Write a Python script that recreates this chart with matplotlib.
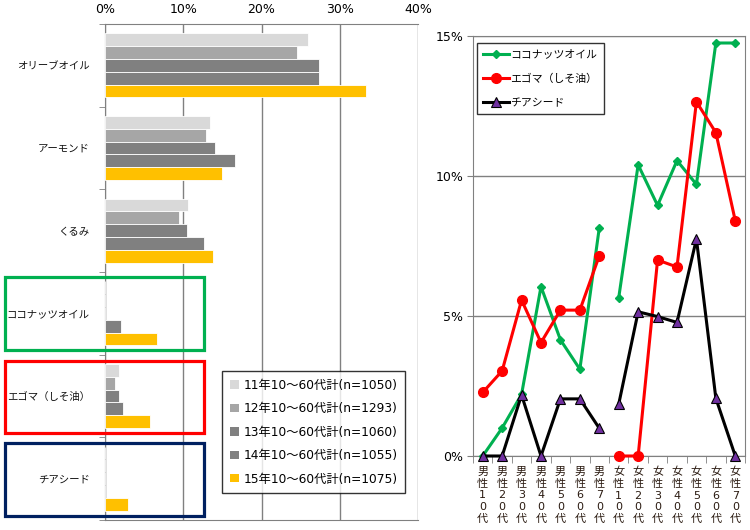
import numpy as np
import matplotlib
matplotlib.use("Agg")
import matplotlib.pyplot as plt
from matplotlib.patches import Rectangle, Patch
from matplotlib.lines import Line2D

plt.rcParams['font.family'] = ['DejaVu Sans', 'Noto Sans CJK JP']

# left chart: share by year (%)
oils = ['オリーブオイル', 'アーモンド', 'くるみ', 'ココナッツオイル', 'エゴマ（しそ油）', 'チアシード']
years = ['11年10～60代計(n=1050)', '12年10～60代計(n=1293)', '13年10～60代計(n=1060)',
         '14年10～60代計(n=1055)', '15年10～60代計(n=1075)']
y11 = [26.0, 13.4, 10.6, 0.0, 1.8, 0.0]
y12 = [24.5, 12.9, 9.4, 0.0, 1.3, 0.0]
y13 = [27.3, 14.1, 10.5, 0.0, 1.75, 0.0]
y14 = [27.3, 16.6, 12.7, 2.0, 2.3, 0.0]
y15 = [33.3, 15.0, 13.8, 6.7, 5.7, 3.0]
year_colors = ['#D9D9D9', '#A6A6A6', '#808080', '#808080', '#FFC000']

# right chart: 15年 by sex / age (%)
groups = ['男性10代', '男性20代', '男性30代', '男性40代', '男性50代', '男性60代', '男性70代',
          '女性10代', '女性20代', '女性30代', '女性40代', '女性50代', '女性60代', '女性70代']
coconut = [0.0, 1.0, 2.2, 6.05, 4.15, 3.1, 8.15, 5.65, 10.4, 8.95, 10.55, 9.7, 14.75, 14.75]
egoma = [2.27, 3.04, 5.57, 4.05, 5.21, 5.21, 7.15, 0.0, 0.0, 7.0, 6.75, 12.65, 11.55, 8.4]
chia = [0.0, 0.0, 2.18, 0.0, 2.04, 2.04, 0.99, 1.85, 5.15, 4.98, 4.77, 7.75, 2.06, 0.0]

fig = plt.figure(figsize=(7.5, 5.3), dpi=100)
W, H = 750, 530

# ---- left: horizontal bars
ax = fig.add_axes([105 / W, 10 / H, 313 / W, 496 / H])
series = [y11, y12, y13, y14, y15]
bh = 0.155
pos = np.arange(len(oils))
for j, vals in enumerate(series):
    ax.barh(pos + (j - 2) * bh, vals, height=bh, color=year_colors[j],
            edgecolor='white', linewidth=0.6, zorder=3)
ax.set_xlim(0, 40)
ax.set_ylim(len(oils) - 0.5, -0.5)
ax.xaxis.tick_top()
ax.set_xticks([0, 10, 20, 30, 40])
ax.set_xticklabels(['0%', '10%', '20%', '30%', '40%'], fontsize=9)
ax.tick_params(axis='x', length=0, pad=6)
ax.set_yticks(pos)
ax.set_yticklabels(oils, fontsize=7.5, color='#111111')
ax.set_yticks(np.arange(len(oils) + 1) - 0.5, minor=True)
ax.tick_params(axis='y', which='major', length=0, pad=11)
ax.tick_params(axis='y', which='minor', length=4, color='#808080')
ax.grid(axis='x', color='#808080', linewidth=1, zorder=0)
for s in ['left', 'top', 'bottom']:
    ax.spines[s].set_color('#808080')
ax.spines['right'].set_visible(False)

handles = [Patch(facecolor=c, edgecolor='none') for c in year_colors]
leg = fig.legend(handles, years, loc='upper left', bbox_to_anchor=(222 / W, 1 - 371 / H),
                 fontsize=8.8, frameon=True, fancybox=False, handlelength=0.7,
                 handleheight=0.7, handletextpad=0.4, labelspacing=0.85,
                 borderpad=0.65, borderaxespad=0)
leg.get_frame().set_edgecolor('black')
leg.get_frame().set_linewidth(1)

# coloured boxes around the new oils
for (y0, y1), c in zip([(277, 350), (361, 433), (443, 516)], ['#00B050', '#FF0000', '#002060']):
    fig.patches.append(Rectangle((5 / W, 1 - y1 / H), 199 / W, (y1 - y0) / H,
                                 transform=fig.transFigure, fill=False,
                                 edgecolor=c, linewidth=2.3, zorder=5))

# ---- right: lines by sex / age
ax2 = fig.add_axes([473 / W, 74 / H, 272 / W, 420 / H])
x = np.arange(len(groups))
styles = [
    (coconut, 'ココナッツオイル', dict(color='#00B050', marker='D', markersize=4.5,
                                  markerfacecolor='#00B050', markeredgecolor='#00B050')),
    (egoma, 'エゴマ（しそ油）', dict(color='#FF0000', marker='o', markersize=7,
                                 markerfacecolor='#FF0000', markeredgecolor='#FF0000')),
    (chia, 'チアシード', dict(color='black', marker='^', markersize=7,
                          markerfacecolor='#7030A0', markeredgecolor='black', markeredgewidth=0.8)),
]
handles2 = []
for vals, name, st in styles:
    # male and female parts are drawn as separate lines
    ax2.plot(x[:7], vals[:7], linewidth=2.2, zorder=3, clip_on=False, **st)
    ax2.plot(x[7:], vals[7:], linewidth=2.2, zorder=3, clip_on=False, **st)
    handles2.append(Line2D([], [], linewidth=2.2, **st))
ax2.set_xlim(-0.5, len(groups) - 0.5)
ax2.set_ylim(0, 15)
ax2.set_yticks([0, 5, 10, 15])
ax2.set_yticklabels(['0%', '5%', '10%', '15%'], fontsize=9)
ax2.tick_params(axis='y', length=4, color='#808080', pad=3)
ax2.grid(axis='y', color='#808080', linewidth=1, zorder=0)
ax2.set_xticks(x)
ax2.set_xticklabels(['\n'.join(g) for g in groups], fontsize=8, linespacing=1.2,
                    color='#2a1a10')
ax2.set_xticks(np.arange(len(groups) + 1) - 0.5, minor=True)
ax2.tick_params(axis='x', which='major', length=0, pad=8)
ax2.tick_params(axis='x', which='minor', length=5, color='#808080')
for s in ['left', 'bottom', 'top', 'right']:
    ax2.spines[s].set_color('#808080')

leg2 = ax2.legend(handles2, [s[1] for s in styles], loc='upper left',
                  bbox_to_anchor=(476.7 / W, 1 - 43 / H), bbox_transform=fig.transFigure,
                  fontsize=7.8, frameon=True, fancybox=False, handlelength=2.4,
                  handletextpad=0.1, labelspacing=1.3, borderpad=0.6, borderaxespad=0)
leg2.get_frame().set_edgecolor('black')
leg2.get_frame().set_linewidth(1)

fig.savefig('out.png', dpi=100)
